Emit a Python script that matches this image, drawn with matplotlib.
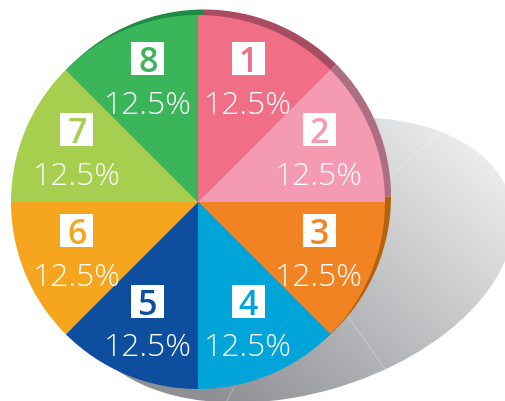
import numpy as np
import matplotlib
matplotlib.use('Agg')
import matplotlib.pyplot as plt
from matplotlib.patches import Ellipse, Rectangle
from matplotlib import font_manager

# data
labels = ['1', '2', '3', '4', '5', '6', '7', '8']
shares = [12.5, 12.5, 12.5, 12.5, 12.5, 12.5, 12.5, 12.5]
colors = ['#f06f87', '#f49ab2', '#f28322', '#00a4d8',
          '#0e4e9f', '#f6a51e', '#a6ce4f', '#3bb55a']
rim_colors = ['#a94b61', '#ad6d83', '#b5620f', '#00739a',
              '#0a3770', '#b07515', '#74903a', '#1f8b45']

W, H = 506, 402


def pick_font(names):
    available = {f.name for f in font_manager.fontManager.ttflist}
    for n in names:
        if n in available:
            return n
    return 'DejaVu Sans'


num_font = pick_font(['Open Sans', 'Lato', 'DejaVu Sans'])
pct_size = 23
pct_props = font_manager.FontProperties(family=num_font, weight='light',
                                        size=pct_size)

fig = plt.figure(figsize=(W / 100, H / 100), dpi=100)
ax = fig.add_axes([0, 0, 1, 1])

# pie centre (y measured from the top in the picture)
cx, cy = 198, H - 203
radius = 187

# grey shadow behind the pie
shadow = Ellipse((296, H - 261), 446, 268, angle=16,
                 facecolor='none', edgecolor='none')
ax.add_patch(shadow)
gx, gy = np.meshgrid(np.arange(W) + 0.5, np.arange(H) + 0.5)
t = ((gx - 480) * (-260) + (gy - 120) * 280) / (260 ** 2 + 280 ** 2)
t = np.clip(t, 0, 1)
light = np.array([0.945, 0.948, 0.95])
dark = np.array([0.56, 0.565, 0.58])
img = light + (dark - light) * t[..., None]
im = ax.imshow(img, extent=(0, W, 0, H), origin='upper', zorder=1,
               interpolation='bilinear')
im.set_clip_path(shadow)

# faint slice edges in the shadow
sx, sy = 303, H - 253
for dx, dy in [(144, 126), (77, -110), (-70, -137)]:
    ln, = ax.plot([sx, sx + 3 * dx], [sy, sy + 3 * dy], color='white',
                  lw=0.6, alpha=0.35, zorder=1.5)
    ln.set_clip_path(shadow)

# darker rim: same pie shifted up and right
ax.pie(shares, colors=rim_colors, startangle=90, counterclock=False,
       radius=radius, center=(cx + 6, cy + 5.5),
       wedgeprops=dict(linewidth=0, zorder=2))

wedges, _ = ax.pie(shares, colors=colors, startangle=90, counterclock=False,
                   radius=radius, center=(cx, cy),
                   wedgeprops=dict(linewidth=0, zorder=3))

# labels
label_r = 131
box = 33
cap = 25
pct_cap = pct_size * 100 / 72 * 0.714
for w, lab, val, col in zip(wedges, labels, shares, colors):
    mid = np.deg2rad((w.theta1 + w.theta2) / 2)
    lx = cx + label_r * np.cos(mid)
    ly = cy + label_r * np.sin(mid)
    bx, by = lx, ly + 22
    ax.add_patch(Rectangle((bx - box / 2, by - box / 2), box, box,
                           facecolor='white', edgecolor='none', zorder=4))
    ax.text(bx, by - cap / 2, lab, color=col, fontsize=24.5,
            fontweight='semibold', family=num_font, ha='center',
            va='baseline', zorder=5)
    ax.text(lx, ly - 21 - pct_cap / 2, f'{val:.1f}%', color='white',
            fontproperties=pct_props, ha='center', va='baseline',
            zorder=5)

ax.set_xlim(0, W)
ax.set_ylim(0, H)
ax.axis('off')
fig.savefig('out.png', dpi=100)
